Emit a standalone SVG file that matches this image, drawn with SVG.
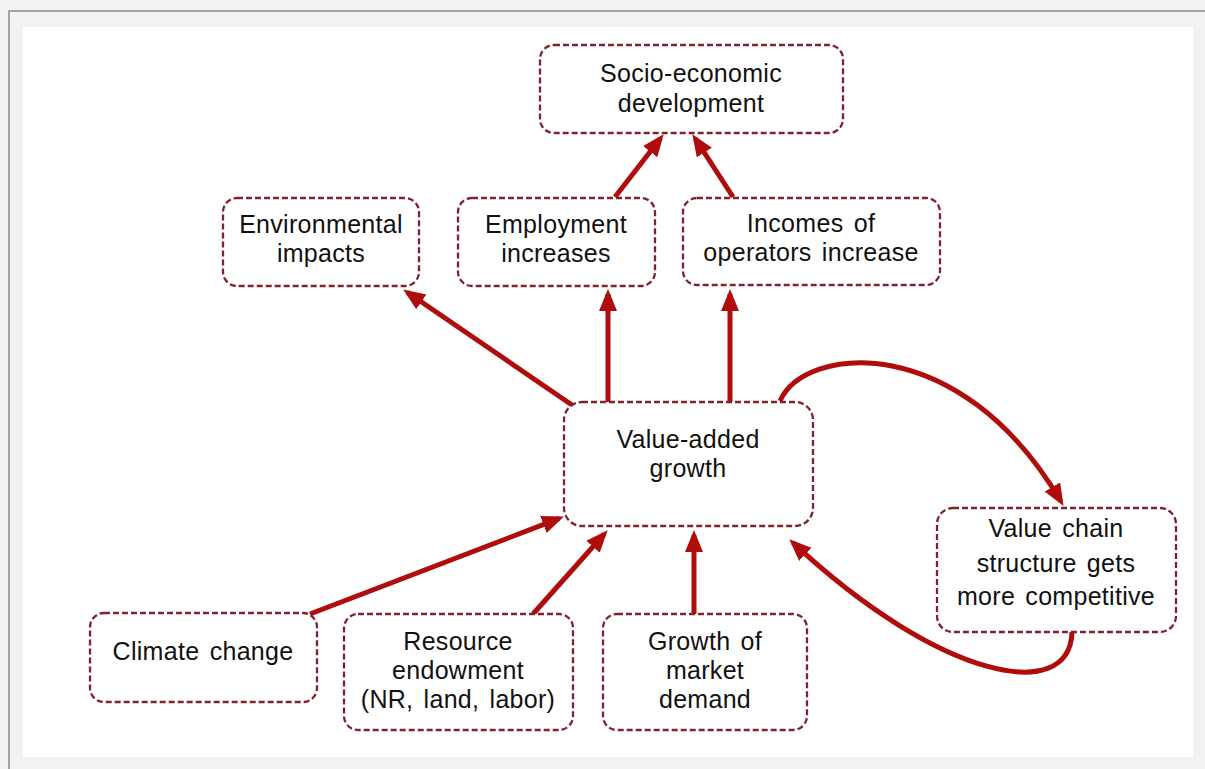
<svg xmlns="http://www.w3.org/2000/svg" width="1205" height="769" viewBox="0 0 1205 769">
<style>
.box{fill:#fff;stroke:#84202d;stroke-width:2.3;stroke-dasharray:6 3}
.lbl{font-family:"Liberation Sans",Arial,sans-serif;font-size:25px;fill:#111;text-anchor:middle;letter-spacing:0.3px;word-spacing:3px}
.arr{fill:none;stroke:#b00c0c;stroke-width:5;marker-end:url(#ah)}
</style>
<defs>
<marker id="ah" markerUnits="userSpaceOnUse" markerWidth="24" markerHeight="20" refX="17" refY="9" orient="auto">
<path d="M0,0 L22,9 L0,18 z" fill="#b00c0c"/>
</marker>
</defs>
<rect x="0" y="0" width="1205" height="769" fill="#f2f2f2"/>
<path d="M9,769 L9,11 L1205,11" fill="none" stroke="#a3a3a3" stroke-width="2"/>
<rect x="23" y="27" width="1170" height="730" fill="#fff"/>

<g id="connectors">
<path class="arr" d="M615,197 L660.6,138.2"/>
<path class="arr" d="M733,197 L695.1,138.4"/>
<path class="arr" d="M572,405 L407.3,292.3"/>
<path class="arr" d="M608,402 L608,294"/>
<path class="arr" d="M730,402 L730,294"/>
<path class="arr" d="M310,614 L559.3,518.4"/>
<path class="arr" d="M533,614 L604.3,534"/>
<path class="arr" d="M694,614 L694,535"/>
<path class="arr" d="M780,401 C805,345 960,330 1061,501.6"/>
<path class="arr" d="M1072,632 C1070,705 940,680 792.9,542.7"/>
</g>

<g id="socio">
<rect class="box" x="540" y="45" width="303" height="88" rx="14"/>
<text class="lbl" x="691" y="82">Socio-economic</text>
<text class="lbl" x="691" y="112">development</text>
</g>
<g id="environmental">
<rect class="box" x="223" y="198" width="196" height="88" rx="14"/>
<text class="lbl" x="321" y="233">Environmental</text>
<text class="lbl" x="321" y="262">impacts</text>
</g>
<g id="employment">
<rect class="box" x="458" y="198" width="197" height="88" rx="14"/>
<text class="lbl" x="556" y="233">Employment</text>
<text class="lbl" x="556" y="262">increases</text>
</g>
<g id="incomes">
<rect class="box" x="683" y="198" width="257" height="87" rx="14"/>
<text class="lbl" x="811" y="232">Incomes of</text>
<text class="lbl" x="811" y="261">operators increase</text>
</g>
<g id="valueadded">
<rect class="box" x="564" y="402" width="249" height="124" rx="18"/>
<text class="lbl" x="688" y="448">Value-added</text>
<text class="lbl" x="688" y="477">growth</text>
</g>
<g id="valuechain">
<rect class="box" x="937" y="508" width="239" height="124" rx="16"/>
<text class="lbl" x="1056" y="537">Value chain</text>
<text class="lbl" x="1056" y="572">structure gets</text>
<text class="lbl" x="1056" y="605">more competitive</text>
</g>
<g id="climate">
<rect class="box" x="90" y="613" width="227" height="89" rx="14"/>
<text class="lbl" x="203" y="660">Climate change</text>
</g>
<g id="resource">
<rect class="box" x="344" y="614" width="229" height="116" rx="14"/>
<text class="lbl" x="458" y="650">Resource</text>
<text class="lbl" x="458" y="679">endowment</text>
<text class="lbl" x="458" y="708">(NR, land, labor)</text>
</g>
<g id="growth">
<rect class="box" x="603" y="614" width="204" height="116" rx="14"/>
<text class="lbl" x="705" y="650">Growth of</text>
<text class="lbl" x="705" y="679">market</text>
<text class="lbl" x="705" y="708">demand</text>
</g>
</svg>
